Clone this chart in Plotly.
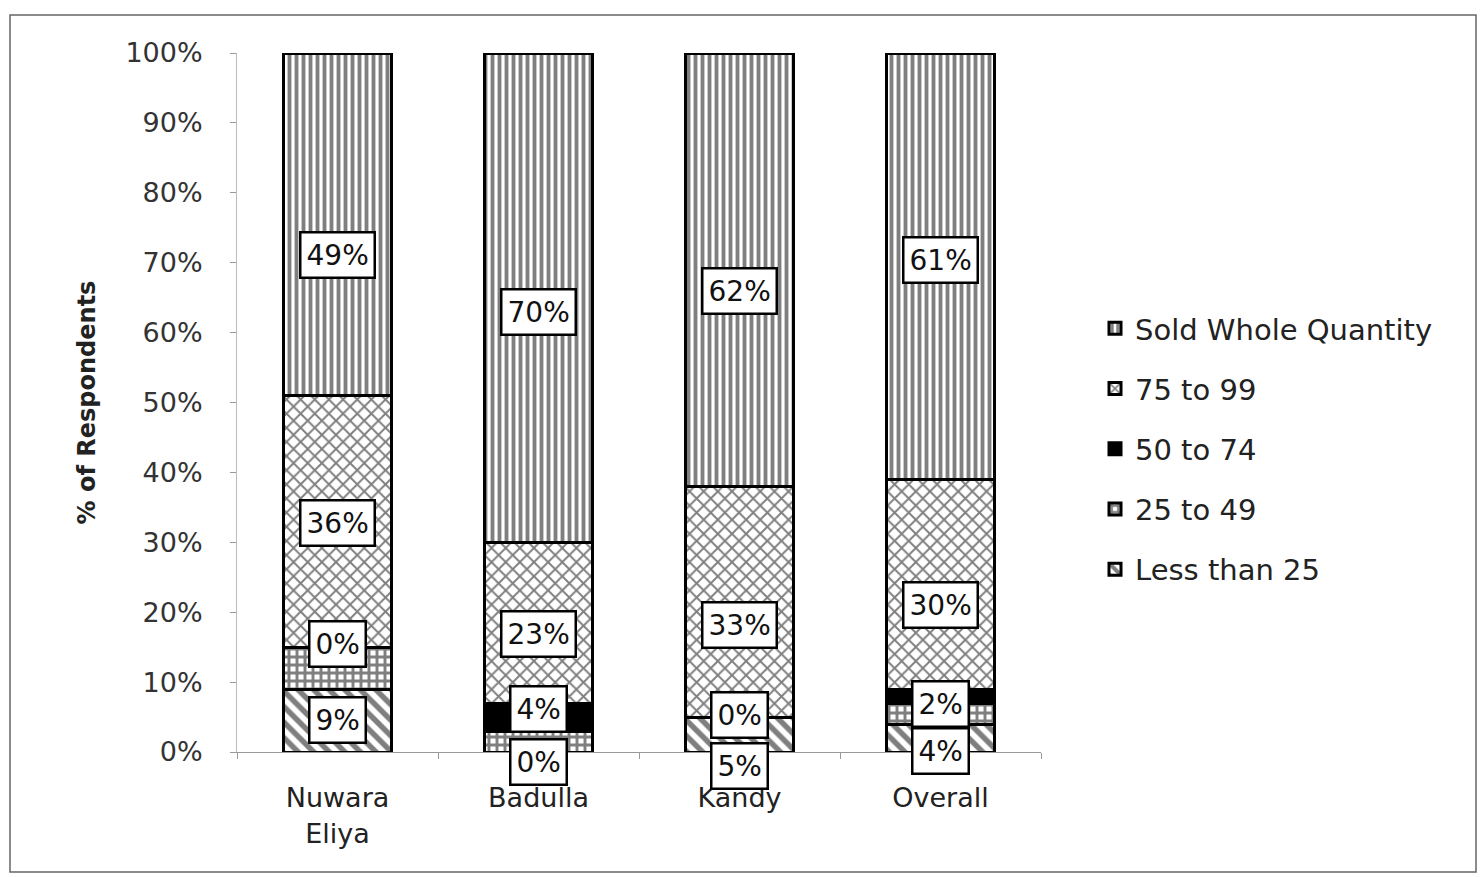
import plotly.graph_objects as go

# Share of respondents (%) by quantity sold, per district
categories = ["Nuwara<br>Eliya", "Badulla", "Kandy", "Overall"]
less_than_25 = [9, 0, 5, 4]
from_25_to_49 = [6, 3, 0, 3]
from_50_to_74 = [0, 4, 0, 2]
from_75_to_99 = [36, 23, 33, 30]
sold_whole = [49, 70, 62, 61]

series = [
    ("Less than 25", less_than_25, dict(shape="\\", fgcolor="black", bgcolor="white", size=11, solidity=0.5)),
    ("25 to 49", from_25_to_49, dict(shape="+", fgcolor="black", bgcolor="white", size=8, solidity=0.6)),
    ("50 to 74", from_50_to_74, dict(shape="", bgcolor="black", fgcolor="black")),
    ("75 to 99", from_75_to_99, dict(shape="x", fgcolor="black", bgcolor="white", size=10, solidity=0.35)),
    ("Sold Whole Quantity", sold_whole, dict(shape="|", fgcolor="black", bgcolor="white", size=7, solidity=0.55)),
]

# series whose value labels are drawn, with vertical pixel nudges per category
label_nudges = {
    "Less than 25": [1, -10, -31, -13],
    "50 to 74": [3, 8, 2, -8],
    "75 to 99": [-2, -11, -23, -21],
    "Sold Whole Quantity": [-31, -14, -21, 6],
}

FONT = "DejaVu Sans"
fig = go.Figure()
for i, (name, vals, pat) in enumerate(series):
    fig.add_trace(go.Bar(
        name=name, x=categories, y=vals, legendgroup=name,
        legendrank=len(series) - i,
        marker=dict(color="white" if pat["shape"] else "black", pattern=pat,
                    line=dict(color="black", width=3)),
    ))

annotations = []
base = [0] * len(categories)
for name, vals, _ in series:
    for j, v in enumerate(vals):
        if name in label_nudges:
            annotations.append(dict(
                x=categories[j], y=base[j] + v / 2, yshift=label_nudges[name][j],
                text=f"{v}%", showarrow=False,
                font=dict(family=FONT, size=28, color="#111"),
                bgcolor="white", bordercolor="black", borderwidth=2.5, borderpad=5,
            ))
        base[j] += v

L, R, T, B = 237, 440, 53, 125
W, H = 1481, 877
pw, ph = W - L - R, H - T - B
shapes = [dict(type="rect", xref="paper", yref="paper",
               x0=(10 - L) / pw, x1=(1476 - L) / pw,
               y0=(H - B - 872) / ph, y1=(H - B - 15) / ph,
               line=dict(color="#666", width=1.5))]

fig.update_layout(
    width=W, height=H, barmode="stack", bargap=0.46,
    margin=dict(l=L, r=R, t=T, b=B, autoexpand=False),
    paper_bgcolor="white", plot_bgcolor="white",
    font=dict(family=FONT, size=26, color="#222"),
    annotations=annotations, shapes=shapes,
    legend=dict(x=(1095 - L) / pw, y=(H - B - 303) / ph, xanchor="left", yanchor="top",
                traceorder="grouped", tracegroupgap=19.5,
                font=dict(family=FONT, size=29, color="#222"), bgcolor="rgba(0,0,0,0)"),
    xaxis=dict(showline=True, linecolor="#999", linewidth=1, ticks="outside",
               tickson="boundaries", ticklen=6, tickcolor="#999", ticklabelstandoff=22,
               tickfont=dict(family=FONT, size=27, color="#222"), showgrid=False),
    yaxis=dict(range=[0, 100], dtick=10, ticksuffix="%", showline=True, linecolor="#bbb",
               linewidth=1, ticks="outside", ticklen=6, tickcolor="#999", showgrid=False,
               zeroline=False, ticklabelstandoff=22,
               tickfont=dict(family=FONT, size=27, color="#333"),
               title=dict(text="<b>% of Respondents</b>", standoff=22,
                          font=dict(family=FONT, size=24, color="#222"))),
)

fig.write_html("out.html")
